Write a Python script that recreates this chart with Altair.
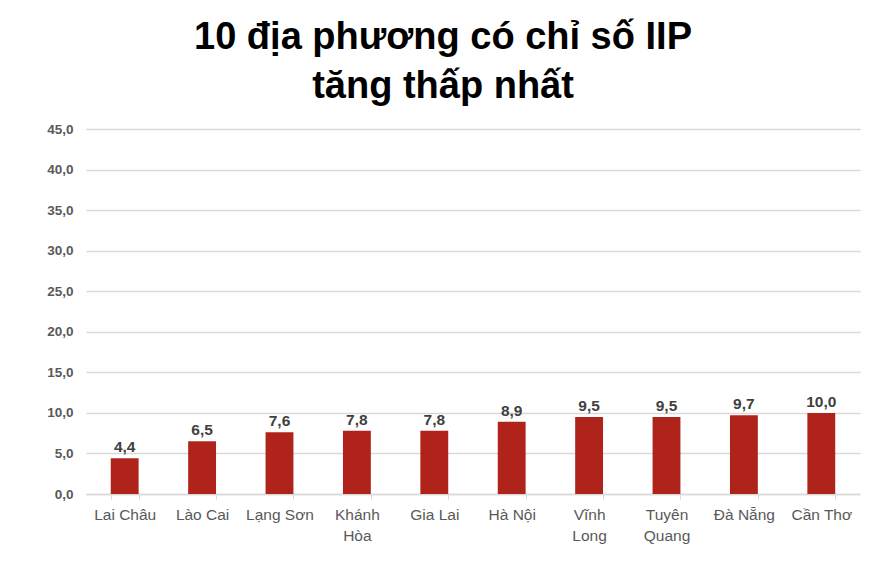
import altair as alt
import pandas as pd

provinces = ["Lai Châu", "Lào Cai", "Lạng Sơn", "Khánh|Hòa", "Gia Lai", "Hà Nội",
             "Vĩnh|Long", "Tuyên|Quang", "Đà Nẵng", "Cần Thơ"]
values = [4.4, 6.5, 7.6, 7.8, 7.8, 8.9, 9.5, 9.5, 9.7, 10.0]
y_ticks = [0, 5, 10, 15, 20, 25, 30, 35, 40, 45]
title_lines = ["10 địa phương có chỉ số IIP", "tăng thấp nhất"]

df = pd.DataFrame({"province": provinces, "value": values})
df["label"] = [f"{v:.1f}".replace(".", ",") for v in values]

x_enc = alt.X("province:N", sort=provinces, title=None,
              scale=alt.Scale(paddingInner=0.64, paddingOuter=0.32),
              axis=alt.Axis(labelAngle=0, labelExpr="split(datum.label, '|')",
                            labelFont="Liberation Sans", labelFontSize=15.5,
                            labelColor="#595959", labelPadding=8, labelLineHeight=21,
                            tickBand="extent", tickColor="#d9d9d9", tickSize=5,
                            domainColor="#d9d9d9", domainWidth=1.5))
y_enc = alt.Y("value:Q", title=None,
              scale=alt.Scale(domain=[0, 45], nice=False),
              axis=alt.Axis(values=y_ticks, labelExpr="replace(format(datum.value, '.1f'), '.', ',')",
                            labelFont="Liberation Sans", labelFontSize=13.5,
                            labelFontWeight="bold",
                            labelColor="#595959", labelPadding=13, ticks=False,
                            domain=False, gridColor="#d9d9d9", gridWidth=1.5))

bars = alt.Chart(df).mark_bar(color="#B0231A").encode(x=x_enc, y=y_enc)
text = alt.Chart(df).mark_text(dy=-11, font="Liberation Sans", fontSize=15.5,
                               fontWeight="bold", color="#404040").encode(
    x=alt.X("province:N", sort=provinces), y="value:Q", text="label:N")

chart = (bars + text).properties(
    width=774, height=365,
    padding={"left": 38, "top": 11, "right": 20, "bottom": 5},
    title=alt.TitleParams(title_lines, font="Liberation Sans", fontSize=38,
                          fontWeight="bold", color="#000000", anchor="middle",
                          lineHeight=49, offset=16, dx=-30),
).configure_view(stroke=None)

chart.save("out.html", embed_options={"renderer": "svg", "actions": False})
